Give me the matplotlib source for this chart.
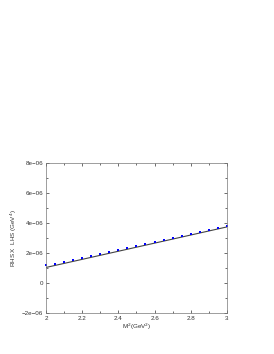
import matplotlib
matplotlib.use("Agg")
import matplotlib.pyplot as plt
from matplotlib.ticker import MultipleLocator, FuncFormatter

# Borel mass squared and sum rule values
m2 = [2.0, 2.05, 2.1, 2.15, 2.2, 2.25, 2.3, 2.35, 2.4, 2.45, 2.5,
      2.55, 2.6, 2.65, 2.7, 2.75, 2.8, 2.85, 2.9, 2.95, 3.0]
rhs_lhs = [1.19e-6, 1.28e-6, 1.39e-6, 1.52e-6, 1.64e-6, 1.77e-6, 1.90e-6,
           2.03e-6, 2.16e-6, 2.30e-6, 2.44e-6, 2.57e-6, 2.70e-6, 2.84e-6,
           2.98e-6, 3.12e-6, 3.26e-6, 3.40e-6, 3.53e-6, 3.66e-6, 3.80e-6]

# fit line end points
fit_x = [2.0, 3.0]
fit_y = [1.03e-6, 3.73e-6]

plt.rcParams['font.family'] = ['Liberation Sans', 'DejaVu Sans']

fig = plt.figure(figsize=(2.74, 3.54), dpi=100)
ax = fig.add_axes([0.168, 0.116, 0.66, 0.424])

ax.plot(fit_x, fit_y, color='#444444', lw=0.8, zorder=1)
ax.plot(m2, rhs_lhs, 's', color='#0000ff', ms=2.0, mew=0, zorder=2, clip_on=False)

ax.set_xlim(2, 3)
ax.set_ylim(-2e-6, 8e-6)
ax.xaxis.set_major_locator(MultipleLocator(0.2))
ax.xaxis.set_minor_locator(MultipleLocator(0.1))
ax.yaxis.set_major_locator(MultipleLocator(2e-6))
ax.yaxis.set_minor_locator(MultipleLocator(1e-6))


def fmt_x(v, pos):
    return ('%g' % round(v, 1))


def fmt_y(v, pos):
    if abs(v) < 1e-12:
        return '0'
    s = '%.0e' % v
    return s.replace('-', '\u2212')


ax.xaxis.set_major_formatter(FuncFormatter(fmt_x))
ax.yaxis.set_major_formatter(FuncFormatter(fmt_y))

ax.tick_params(which='both', direction='in', top=True, right=True,
               labelsize=4.5, colors='#333333', width=0.5, pad=2)
ax.tick_params(which='major', length=2.5)
ax.tick_params(which='minor', length=1.5)
for sp in ax.spines.values():
    sp.set_linewidth(0.5)
    sp.set_color('#777777')

ax.set_xlabel('M$^2$(GeV$^2$)', fontsize=4.5, labelpad=1, color='#333333')
ax.set_ylabel('RHS X  LHS (GeV$^4$)', fontsize=4.5, labelpad=2, color='#333333')

fig.savefig('out.png', dpi=100)
